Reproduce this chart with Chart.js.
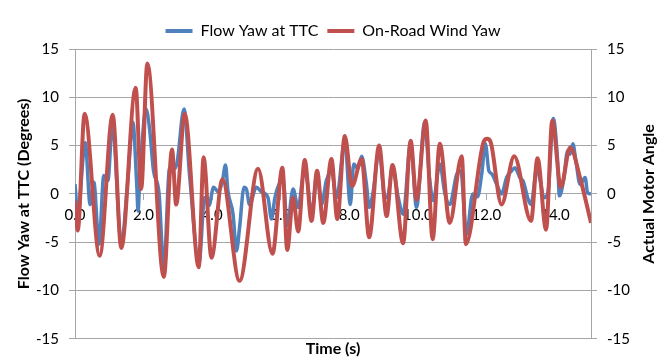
<!DOCTYPE html>
<html>
<head>
<meta charset="utf-8">
<script src="https://cdn.jsdelivr.net/npm/chart.js@4/dist/chart.umd.min.js"></script>
<style>
  html, body { margin: 0; padding: 0; background: #fff; }
  #wrap { width: 666px; height: 358px; position: relative; }
</style>
</head>
<body>
<div id="wrap"><canvas id="yawChart"></canvas></div>
<script>
// time (s) and yaw (deg)
const flowT = [0, 0.08, 0.30, 0.44, 0.55, 0.70, 0.84, 0.96, 1.09, 1.35, 1.54, 1.69, 1.80, 1.84, 1.88, 2.07, 2.17, 2.29, 2.45, 2.59, 2.76, 2.91, 2.98, 3.18, 3.34, 3.62, 3.78, 3.91, 4.04, 4.18, 4.30, 4.39, 4.46, 4.61, 4.71, 4.80, 4.93, 5.00, 5.09, 5.29, 5.44, 5.63, 5.73, 5.83, 5.95, 6.07, 6.19, 6.36, 6.51, 6.67, 6.75, 6.90, 7.06, 7.19, 7.33, 7.48, 7.63, 7.87, 8.03, 8.13, 8.25, 8.36, 8.50, 8.58, 8.69, 8.87, 9.04, 9.14, 9.26, 9.43, 9.57, 9.79, 9.96, 10.20, 10.33, 10.45, 10.64, 10.79, 10.93, 11.13, 11.25, 11.42, 11.60, 11.74, 11.86, 11.97, 12.07, 12.15, 12.30, 12.44, 12.59, 12.74, 12.83, 12.99, 13.07, 13.22, 13.30, 13.47, 13.56, 13.68, 13.80, 13.95, 14.07, 14.13, 14.25, 14.37, 14.44, 14.52, 14.61, 14.73, 14.88, 14.95, 15.05];
const flowYaw = [1.0, -2.0, 5.3, -1.1, 1.2, -5.2, 1.9, 1.4, 7.2, -5.2, 1.4, 7.4, 1.0, -1.8, 0.8, 8.8, 6.9, 2.4, 0.1, -7.6, 2.7, 2.6, 3.3, 8.8, 2.0, -7.1, -0.4, -1.2, 0.7, 0.2, 1.35, 3.0, 0.3, -2.1, -5.9, -3.5, 0.7, 0.5, -1.1, 0.7, 0.2, -0.4, -2.6, -0.4, 1.0, 1.5, -3.3, 0.5, -1.4, 2.0, 1.8, -2.1, 2.0, -1.1, 1.35, 2.4, -0.4, 5.5, -1.1, 3.1, 2.6, 3.9, 1.0, -1.4, 0.1, 4.5, -0.4, 0.0, 2.7, -0.4, -2.1, 5.2, -1.4, 7.4, 2.0, -0.7, 3.1, 0.0, -1.1, 2.0, 2.4, -4.2, 0.0, -0.3, 2.0, 5.2, 2.4, 2.1, 1.0, 0.0, 1.7, 2.4, 2.7, 1.6, 1.35, -0.6, -1.1, 2.6, 1.5, -0.4, 0.3, 7.8, 3.8, -0.2, 1.4, 4.5, 4.1, 5.2, 3.4, 1.0, 1.7, 0.1, 0.0];

const windT = [0, 0.08, 0.28, 0.72, 1.10, 1.35, 1.77, 1.93, 2.11, 2.59, 2.83, 2.95, 3.20, 3.61, 3.75, 3.98, 4.30, 4.80, 5.34, 5.76, 6.05, 6.19, 6.36, 6.51, 6.70, 6.90, 7.06, 7.24, 7.48, 7.65, 7.87, 8.08, 8.36, 8.58, 8.87, 9.09, 9.26, 9.57, 9.79, 9.96, 10.23, 10.43, 10.64, 10.93, 11.28, 11.40, 11.92, 12.02, 12.12, 12.44, 12.81, 13.30, 13.49, 13.74, 13.92, 14.17, 14.44, 14.75, 15.05];
const windYaw = [-0.7, -3.8, 8.3, -6.4, 8.2, -5.6, 11.0, 0.5, 13.5, -8.6, 4.6, -1.1, 8.3, -7.6, 3.8, -6.6, 1.5, -9.0, 2.6, -6.2, 2.7, -5.8, -0.4, -3.9, 3.5, -2.8, 2.4, -3.0, 3.6, -2.6, 6.0, 0.8, 3.6, -4.5, 5.0, -2.3, 3.0, -5.1, 5.5, -0.6, 7.6, -4.7, 5.2, -3.0, 3.9, -5.2, 5.4, 5.7, 5.4, -1.1, 3.9, -2.8, 3.7, -3.7, 7.6, 0.7, 4.8, 1.4, -3.0];

const yTicks = [-15, -10, -5, 0, 5, 10, 15];

const FONT = "Lato";
const GREY = "#a6a6a6";

// Excel-style right axis title reads bottom-to-top
const rightTitle = {
  id: "rightTitle",
  afterDraw(chart) {
    const { ctx, chartArea } = chart;
    ctx.save();
    ctx.translate(649, (chartArea.top + chartArea.bottom) / 2);
    ctx.rotate(-Math.PI / 2);
    ctx.font = "bold 16px " + FONT;
    ctx.fillStyle = "#000";
    ctx.textAlign = "center";
    ctx.textBaseline = "middle";
    ctx.fillText("Actual Motor Angle", 0, 0);
    ctx.restore();
  }
};

new Chart(document.getElementById("yawChart"), {
  type: "line",
  data: {
    datasets: [
      { label: "Flow Yaw at TTC", data: flowT.map((t, i) => ({ x: t, y: flowYaw[i] })), borderColor: "#4F81BD", backgroundColor: "#4F81BD", borderWidth: 3.5, pointRadius: 0, cubicInterpolationMode: "monotone", order: 2 },
      { label: "On-Road Wind Yaw", data: windT.map((t, i) => ({ x: t, y: windYaw[i] })), borderColor: "#C0504D", backgroundColor: "#C0504D", borderWidth: 4, pointRadius: 0, cubicInterpolationMode: "monotone", order: 1 }
    ]
  },
  options: {
    responsive: true,
    maintainAspectRatio: false,
    animation: false,
    events: [],
    plugins: {
      legend: {
        position: "top",
        labels: {
          font: { family: FONT, size: 16 },
          color: "#000",
          boxWidth: 27,
          boxHeight: 4,
          padding: 9,
          sort: (a, b) => a.datasetIndex - b.datasetIndex,
          generateLabels: (chart) => Chart.defaults.plugins.legend.labels.generateLabels(chart).map((l) => ({ ...l, lineWidth: 0 }))
        }
      },
      title: {
        display: true,
        position: "bottom",
        text: "Time (s)",
        color: "#000",
        font: { family: FONT, size: 16, weight: "bold" },
        padding: 0
      },
      tooltip: { enabled: false }
    },
    scales: {
      x: {
        type: "linear",
        position: { y: 0 },
        min: 0,
        max: 15.05,
        ticks: { stepSize: 2, includeBounds: false, autoSkip: false, maxRotation: 0, padding: 6, color: "#000", font: { family: FONT, size: 15 }, callback: (v) => v.toFixed(1) },
        grid: { drawOnChartArea: false, tickLength: 6, color: GREY },
        border: { color: GREY }
      },
      y: {
        position: "left",
        min: -15,
        max: 15,
        afterBuildTicks: (s) => { s.ticks = yTicks.map((v) => ({ value: v })); },
        afterFit: (s) => { s.width = 75; s.paddingTop = 49; },
        ticks: { padding: 10, color: "#000", font: { family: FONT, size: 15 } },
        grid: { color: GREY, tickLength: 6 },
        border: { color: GREY },
        title: { display: true, text: "Flow Yaw at TTC (Degrees)", color: "#000", font: { family: FONT, size: 16, weight: "bold" }, padding: { top: 14 } }
      },
      y1: {
        position: "right",
        min: -15,
        max: 15,
        afterBuildTicks: (s) => { s.ticks = yTicks.map((v) => ({ value: v })); },
        afterFit: (s) => { s.width = 75; },
        ticks: { padding: 10, color: "#000", font: { family: FONT, size: 15 } },
        grid: { drawOnChartArea: false, color: GREY, tickLength: 6 },
        border: { color: GREY }
      }
    }
  },
  plugins: [rightTitle]
});
</script>
</body>
</html>
